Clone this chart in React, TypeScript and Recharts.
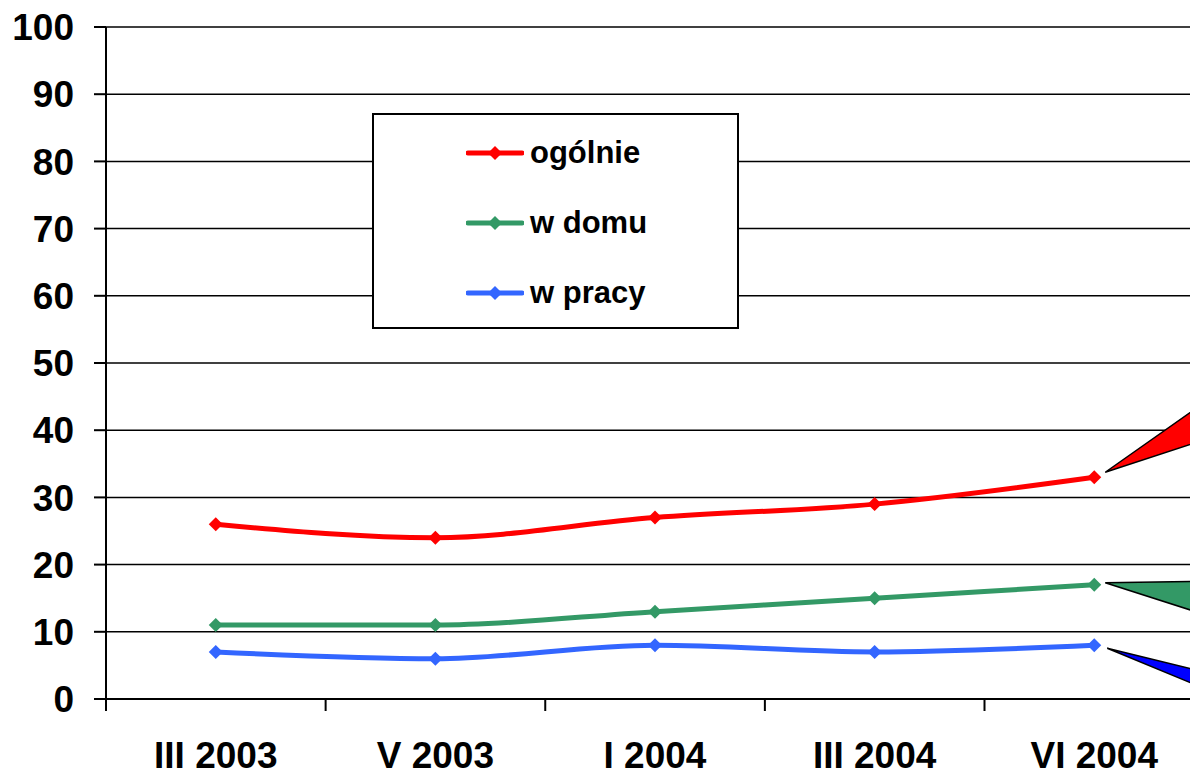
import { LineChart, Line, XAxis, YAxis, CartesianGrid } from 'recharts'

const categories = ['III 2003', 'V 2003', 'I 2004', 'III 2004', 'VI 2004']
const ogolnie = [26, 24, 27, 29, 33]
const wDomu = [11, 11, 13, 15, 17]
const wPracy = [7, 6, 8, 7, 8]
const yTicks = [0, 10, 20, 30, 40, 50, 60, 70, 80, 90, 100]

const data = categories.map((c, i) => ({ name: c, ogolnie: ogolnie[i], wDomu: wDomu[i], wPracy: wPracy[i] }))

const FONT = '"Liberation Sans", Arial, sans-serif'
const BAND = 219.5

const series = [
  { key: 'ogolnie', name: 'ogólnie', color: '#FF0000', callout: '#FF0000' },
  { key: 'wDomu', name: 'w domu', color: '#339966', callout: '#339966' },
  { key: 'wPracy', name: 'w pracy', color: '#3366FF', callout: '#0000FF' },
]

// callout wedge offsets relative to the last point: apex, then two far corners
const callouts: Record<string, number[][]> = {
  ogolnie: [[11, -5], [136, -93], [136, -46]],
  wDomu: [[11, -2], [136, -4], [136, 38]],
  wPracy: [[13, 3], [136, 33], [136, 54]],
}

function makeDot(key: string, color: string) {
  return (props: any) => {
    const { cx, cy, index } = props
    const d = 7
    return <g key={key + index}>
      <polygon points={`${cx},${cy - d} ${cx + d},${cy} ${cx},${cy + d} ${cx - d},${cy}`} fill={color} />
      {index === categories.length - 1 && (
        <polygon
          points={callouts[key].map(([dx, dy]) => `${cx + dx},${cy + dy}`).join(' ')}
          fill={series.find(s => s.key === key)!.callout}
          stroke="#000" strokeWidth={1.5} strokeLinejoin="miter"
        />
      )}
    </g>
  }
}

function XTick(props: any) {
  const { x, y, payload } = props
  return <g>
    <line x1={x - BAND / 2} x2={x - BAND / 2} y1={y} y2={y + 12} stroke="#000" strokeWidth={2} />
    <text x={x} y={y + 69} textAnchor="middle" fontFamily={FONT} fontWeight="bold" fontSize={37} fill="#000">{payload.value}</text>
  </g>
}

function LegendBox() {
  return <div style={{ position: 'absolute', left: 372, top: 113, width: 363, height: 212, border: '2px solid #000', background: '#fff' }}>
    {series.map((s, i) => (
      <div key={s.key} style={{ position: 'absolute', left: 92, top: 38 + i * 70 - 20, height: 40, display: 'flex', alignItems: 'center' }}>
        <svg width={58} height={20}>
          <line x1={2} x2={56} y1={10} y2={10} stroke={s.color} strokeWidth={5} strokeLinecap="round" />
          <polygon points="29,3 36,10 29,17 22,10" fill={s.color} />
        </svg>
        <span style={{ marginLeft: 6, fontFamily: FONT, fontWeight: 'bold', fontSize: 31, color: '#000', lineHeight: '40px' }}>{s.name}</span>
      </div>
    ))}
  </div>
}

export default function App() {
  return <div style={{ position: 'absolute', left: 0, top: 0, width: 1190, height: 774, overflow: 'hidden', background: '#fff' }}>
    <LineChart width={1220} height={774} data={data} margin={{ top: 27, right: 16, bottom: 0, left: 0 }}>
      <CartesianGrid vertical={false} stroke="#000" strokeWidth={1.5} />
      <XAxis dataKey="name" height={75} padding={{ left: BAND / 2, right: BAND / 2 }}
        axisLine={{ stroke: '#000', strokeWidth: 2 }} tickLine={false} tickSize={0} tickMargin={0} tick={<XTick />} interval={0} />
      <YAxis domain={[0, 100]} ticks={yTicks} width={106} interval={0}
        axisLine={{ stroke: '#000', strokeWidth: 2 }} tickLine={{ stroke: '#000', strokeWidth: 2 }} tickSize={12} tickMargin={20}
        tick={{ fill: '#000', fontFamily: FONT, fontWeight: 'bold', fontSize: 37 }} />
      {series.map(s => (
        <Line key={s.key} dataKey={s.key} name={s.name} type="monotone" stroke={s.color} strokeWidth={5}
          dot={makeDot(s.key, s.color)} activeDot={false} isAnimationActive={false} />
      ))}
    </LineChart>
    <LegendBox />
  </div>
}
